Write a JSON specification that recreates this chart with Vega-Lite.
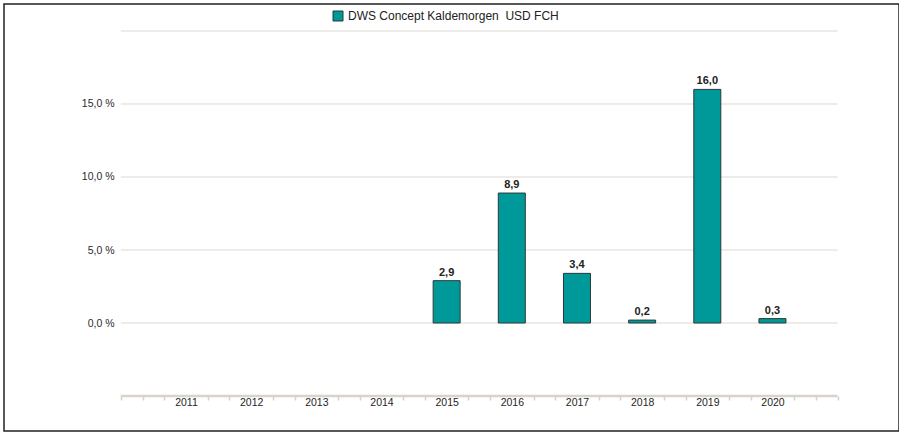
{
  "$schema": "https://vega.github.io/schema/vega-lite/v6.json",
  "autosize": {"type": "none"},
  "padding": {"left": 4, "top": 4, "right": 0, "bottom": 2},
  "width": 895,
  "height": 427,
  "background": "#ffffff",
  "config": {
    "font": "Liberation Sans",
    "view": {"stroke": "#222222", "strokeWidth": 1.5},
    "axis": {"labelOverlap": false, "labelFlush": false, "labelBound": false},
    "locale": {
      "number": {"decimal": ",", "thousands": ".", "grouping": [3], "currency": ["", " €"]}
    }
  },
  "data": {
    "values": [
      {"year": 2015, "value": 2.9, "series": "DWS Concept Kaldemorgen  USD FCH"},
      {"year": 2016, "value": 8.9, "series": "DWS Concept Kaldemorgen  USD FCH"},
      {"year": 2017, "value": 3.4, "series": "DWS Concept Kaldemorgen  USD FCH"},
      {"year": 2018, "value": 0.2, "series": "DWS Concept Kaldemorgen  USD FCH"},
      {"year": 2019, "value": 16.0, "series": "DWS Concept Kaldemorgen  USD FCH"},
      {"year": 2020, "value": 0.3, "series": "DWS Concept Kaldemorgen  USD FCH"}
    ]
  },
  "layer": [
    {
      "data": {"values": [{"g": 0}, {"g": 5}, {"g": 10}, {"g": 15}, {"g": 20}]},
      "mark": {"type": "rule", "color": "#dcd9d1", "strokeWidth": 1},
      "encoding": {
        "y": {
          "field": "g",
          "type": "quantitative",
          "scale": {"domain": [-7.397, 21.849], "nice": false, "zero": false},
          "axis": {
            "title": null,
            "orient": "left",
            "offset": -110,
            "grid": false,
            "domain": false,
            "ticks": false,
            "tickSize": 0,
            "tickCount": 100,
            "labelPadding": 0,
            "values": [0, 5, 10, 15],
            "labelExpr": "replace(format(datum.value, '.1f'), '.', ',') + ' %'",
            "labelFontSize": 10.5,
            "labelColor": "#2a2a2a"
          }
        },
        "x": {
          "datum": 2010,
          "type": "quantitative",
          "scale": {"domain": [2008.284, 2021.865], "nice": false, "zero": false},
          "axis": {
            "title": null,
            "orient": "bottom",
            "offset": -35,
            "grid": false,
            "domain": false,
            "tickCount": 100,
            "values": [2010, 2010.3333, 2010.6667, 2011, 2011.3333, 2011.6667, 2012, 2012.3333, 2012.6667, 2013, 2013.3333, 2013.6667, 2014, 2014.3333, 2014.6667, 2015, 2015.3333, 2015.6667, 2016, 2016.3333, 2016.6667, 2017, 2017.3333, 2017.6667, 2018, 2018.3333, 2018.6667, 2019, 2019.3333, 2019.6667, 2020, 2020.3333, 2020.6667, 2021],
            "labelExpr": "(datum.value == round(datum.value) && datum.value > 2010.5 && datum.value < 2020.5) ? ('' + datum.value) : ''",
            "labelOverlap": false,
            "labelFlush": false,
            "labelBound": false,
            "labelFontSize": 10.5,
            "labelColor": "#1e1e1e",
            "labelPadding": -3,
            "tickColor": "#d4d0c6",
            "tickSize": 4,
            "tickWidth": 1.5,
            "tickOpacity": {"condition": {"test": "datum.value == round(datum.value) && datum.value > 2010.5 && datum.value < 2020.5", "value": 0}, "value": 1}
          }
        },
        "x2": {"datum": 2021}
      }
    },
    {
      "data": {"values": [{"g": -5}]},
      "mark": {"type": "rule", "color": "#d8d4ca", "strokeWidth": 2.5},
      "encoding": {
        "y": {"field": "g", "type": "quantitative"},
        "x": {"datum": 2010, "type": "quantitative"},
        "x2": {"datum": 2021}
      }
    },
    {
      "mark": {"type": "bar", "width": 27, "stroke": "#2b3838", "strokeWidth": 1},
      "encoding": {
        "x": {"field": "year", "type": "quantitative"},
        "y": {"field": "value", "type": "quantitative"},
        "color": {
          "field": "series",
          "type": "nominal",
          "scale": {"range": ["#009999"]},
          "legend": {
            "title": null,
            "orient": "none",
            "legendX": 328,
            "legendY": 6,
            "padding": 0,
            "symbolType": "square",
            "symbolSize": 100,
            "symbolStrokeColor": "#2b3838",
            "symbolStrokeWidth": 1,
            "symbolOpacity": 1,
            "labelFontSize": 12,
            "labelColor": "#222222",
            "labelLimit": 400,
            "labelExpr": "replace(datum.label, '  ', ' \u00a0')"
          }
        }
      }
    },
    {
      "mark": {"type": "text", "fontWeight": "bold", "fontSize": 11, "color": "#222222", "baseline": "alphabetic", "dy": -5},
      "encoding": {
        "x": {"field": "year", "type": "quantitative"},
        "y": {"field": "value", "type": "quantitative"},
        "text": {"field": "value", "type": "quantitative", "format": ".1f"}
      }
    }
  ]
}
